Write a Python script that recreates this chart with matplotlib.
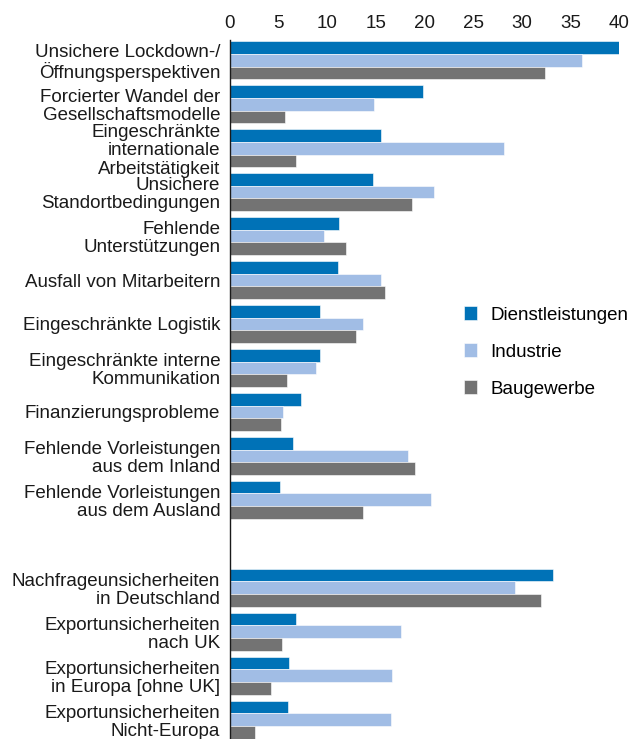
import numpy as np
import matplotlib
matplotlib.use("Agg")
import matplotlib.pyplot as plt

plt.rcParams['font.family'] = ['Liberation Sans', 'DejaVu Sans']

# categories (top to bottom), None = blank slot between the two blocks
categories = [
    "Unsichere Lockdown-/\nÖffnungsperspektiven",
    "Forcierter Wandel der\nGesellschaftsmodelle",
    "Eingeschränkte\ninternationale\nArbeitstätigkeit",
    "Unsichere\nStandortbedingungen",
    "Fehlende\nUnterstützungen",
    "Ausfall von Mitarbeitern",
    "Eingeschränkte Logistik",
    "Eingeschränkte interne\nKommunikation",
    "Finanzierungsprobleme",
    "Fehlende Vorleistungen\naus dem Inland",
    "Fehlende Vorleistungen\naus dem Ausland",
    None,
    "Nachfrageunsicherheiten\nin Deutschland",
    "Exportunsicherheiten\nnach UK",
    "Exportunsicherheiten\nin Europa [ohne UK]",
    "Exportunsicherheiten\nNicht-Europa",
]

dienstleistungen = [40.4, 19.8, 15.5, 14.7, 11.2, 11.1, 9.3, 9.3, 7.3, 6.5, 5.1, None, 33.2, 6.8, 6.1, 6.0]
industrie        = [36.2, 14.8, 28.2, 21.0, 9.7, 15.5, 13.7, 8.8, 5.5, 18.3, 20.7, None, 29.3, 17.6, 16.7, 16.6]
baugewerbe       = [32.4, 5.7, 6.8, 18.7, 11.9, 15.9, 13.0, 5.9, 5.2, 19.0, 13.7, None, 32.0, 5.3, 4.2, 2.6]

series = [("Dienstleistungen", dienstleistungen, "#0072B7"),
          ("Industrie", industrie, "#A1BDE5"),
          ("Baugewerbe", baugewerbe, "#737373")]

fs = 13.5
txt_col = '#1a1a1a'

fig = plt.figure(figsize=(6.36, 7.39), dpi=100)
ax = fig.add_axes([230 / 636, 0, 389 / 636, 1 - 40 / 739])

pos = np.arange(len(categories))
h = 0.29
for i, (name, vals, col) in enumerate(series):
    idx = [k for k, v in enumerate(vals) if v is not None]
    ax.barh(pos[idx] + (i - 1) * h, [vals[k] for k in idx], height=h,
            color=col, edgecolor="white", linewidth=0.4, label=name)

ax.set_xlim(0, 40)
ax.set_ylim(15.44, -0.46)
ax.xaxis.tick_top()
ax.set_xticks(range(0, 41, 5))
ax.tick_params(axis='x', length=0, pad=6, labelsize=fs, colors=txt_col)

lab_pos = [p for p, c in zip(pos, categories) if c is not None]
lab_txt = [c for c in categories if c is not None]
ax.set_yticks(lab_pos)
ax.set_yticklabels(lab_txt, fontsize=fs, color=txt_col, linespacing=1.1)
ax.tick_params(axis='y', length=0, pad=7)

for s in ['top', 'right', 'bottom']:
    ax.spines[s].set_visible(False)
ax.spines['left'].set_color(txt_col)
ax.spines['left'].set_linewidth(1.0)

fig.legend(loc='center left', bbox_to_anchor=(464 / 636, 1 - 352 / 739),
           frameon=False, fontsize=fs, handlelength=0.72, handleheight=0.72,
           handletextpad=0.7, labelspacing=1.06, borderpad=0, borderaxespad=0)

fig.savefig("out.png", dpi=100)
